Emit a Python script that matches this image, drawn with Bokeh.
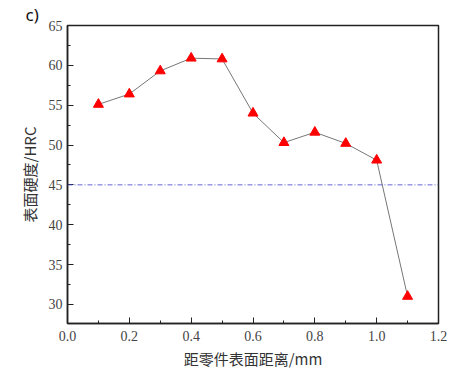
from bokeh.plotting import figure
from bokeh.models import Span, FixedTicker, Range1d
from bokeh.embed import file_html
from bokeh.resources import INLINE

distance = [0.1, 0.2, 0.3, 0.4, 0.5, 0.6, 0.7, 0.8, 0.9, 1.0, 1.1]
hardness = [55.1, 56.4, 59.3, 60.9, 60.8, 54.0, 50.3, 51.6, 50.2, 48.1, 31.0]
reference_level = 45
x_ticks = [0.0, 0.2, 0.4, 0.6, 0.8, 1.0, 1.2]
y_ticks = [30, 35, 40, 45, 50, 55, 60, 65]

p = figure(width=475, height=373, output_backend="svg", toolbar_location=None,
           x_range=Range1d(0, 1.2), y_range=Range1d(27.6, 65),
           min_border_left=67, min_border_right=37, min_border_top=25, min_border_bottom=50)

p.title.text = "c)"
p.title.align = "left"
p.title.offset = -42
p.title.standoff = 0
p.title.text_font = "Noto Sans"
p.title.text_font_size = "17px"
p.title.text_font_style = "normal"
p.title.text_color = "#111111"

p.line(distance, hardness, line_color="#777777", line_width=1)
p.scatter(distance, hardness, marker="triangle", size=10, fill_color="#ff0000", line_color="#ff0000")

p.add_layout(Span(location=reference_level, dimension="width", line_color="#4040cc",
                  line_width=0.8, line_dash="5 2 1 2"))

p.xgrid.visible = False
p.ygrid.visible = False
p.outline_line_color = "#222222"
p.outline_line_width = 1.5

p.xaxis.ticker = FixedTicker(ticks=x_ticks, minor_ticks=[0.1, 0.3, 0.5, 0.7, 0.9, 1.1])
p.yaxis.ticker = FixedTicker(ticks=y_ticks, minor_ticks=[27.5, 32.5, 37.5, 42.5, 47.5, 52.5, 57.5, 62.5])
p.xaxis.major_label_overrides = {0.0: "0.0", 0.2: "0.2", 0.4: "0.4", 0.6: "0.6", 0.8: "0.8", 1.0: "1.0", 1.2: "1.2"}

for ax in (p.xaxis[0], p.yaxis[0]):
    ax.axis_line_color = "#222222"
    ax.axis_line_width = 1.5
    ax.major_tick_in = 6
    ax.major_tick_out = 0
    ax.minor_tick_in = 3
    ax.minor_tick_out = 0
    ax.major_tick_line_color = "#222222"
    ax.minor_tick_line_color = "#222222"
    ax.major_label_text_font = "Liberation Serif"
    ax.major_label_text_font_size = "14px"
    ax.major_label_text_color = "#444444"
    ax.axis_label_text_font = "Noto Sans CJK SC"
    ax.axis_label_text_font_size = "15px"
    ax.axis_label_text_font_style = "normal"
    ax.axis_label_text_color = "#333333"

p.xaxis.axis_label = "距零件表面距离/mm"
p.yaxis.axis_label = "表面硬度/HRC"
p.xaxis.major_label_standoff = 7
p.yaxis.major_label_standoff = 5
p.xaxis.axis_label_standoff = 4
p.yaxis.axis_label_standoff = 6

open("out.html", "w").write(file_html(p, INLINE))
